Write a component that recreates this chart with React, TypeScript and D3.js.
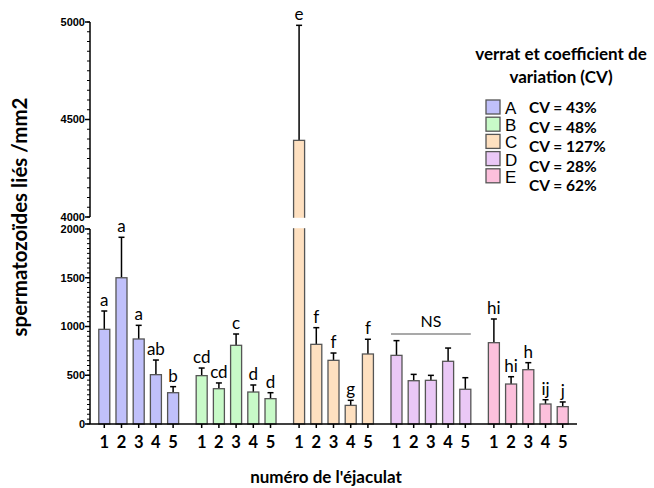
import React from "react";
import * as d3 from "d3";

const boars = ["A", "B", "C", "D", "E"];
const ejaculates = ["1", "2", "3", "4", "5"];
const meanA = [971, 1500, 872, 506, 321];
const semA = [188, 415, 140, 150, 62];
const meanB = [496, 362, 807, 328, 260];
const semB = [78, 59, 116, 72, 61];
const meanC = [4393, 817, 653, 191, 718];
const semC = [590, 171, 75, 52, 151];
const meanD = [704, 444, 448, 643, 356];
const semD = [151, 65, 51, 136, 119];
const meanE = [834, 410, 557, 205, 178];
const semE = [243, 75, 72, 44, 48];
const lettersA = ["a", "a", "a", "ab", "b"];
const lettersB = ["cd", "cd", "c", "d", "d"];
const lettersC = ["e", "f", "f", "g", "f"];
const lettersD = ["", "", "", "", ""];
const lettersE = ["hi", "hi", "h", "ij", "j"];
const cvLabels = ["CV = 43%", "CV = 48%", "CV = 127%", "CV = 28%", "CV = 62%"];
const colors = ["#c0c0fa", "#c8fac8", "#fee0c0", "#eac8f6", "#fcc0dc"];
const lowerTicks = [0, 500, 1000, 1500, 2000];
const upperTicks = [4000, 4500, 5000];

const means = [meanA, meanB, meanC, meanD, meanE];
const sems = [semA, semB, semC, semD, semE];
const letters = [lettersA, lettersB, lettersC, lettersD, lettersE];

const CAL = "Lato, 'Open Sans', sans-serif";
const ARIAL = "'Liberation Sans', Arial, sans-serif";

export default function App() {
  const axisX = 90;
  const xRight = 577;
  const yLower = d3.scaleLinear().domain([0, 2000]).range([424, 229]);
  const yUpper = d3.scaleLinear().domain([4000, 5000]).range([217, 22]);
  const y = (v: number) => (v >= 4000 ? yUpper(v) : yLower(v));
  const xg = d3.scaleBand<string>().domain(boars).range([axisX, xRight]).padding(0);
  const xi = d3
    .scaleBand<string>()
    .domain(ejaculates)
    .range([0, xg.bandwidth()])
    .paddingInner(0.36)
    .paddingOuter(0.51);
  const bw = xi.bandwidth();

  const minorLower = d3.range(0, 2001, 50);
  const minorUpper = d3.range(4000, 5001, 50);

  const bars: any[] = [];
  boars.forEach((b, gi) => {
    ejaculates.forEach((e, ii) => {
      const m = means[gi][ii];
      const s = sems[gi][ii];
      const x0 = (xg(b) as number) + (xi(e) as number);
      const cx = x0 + bw / 2;
      const top = y(m);
      const errTop = y(m + s);
      bars.push(
        <g key={b + e}>
          <line x1={cx} x2={cx} y1={top} y2={errTop} stroke="#000" strokeWidth={1.5} />
          <line x1={cx - 3} x2={cx + 3} y1={errTop} y2={errTop} stroke="#000" strokeWidth={1.5} />
          <rect x={x0} y={top} width={bw} height={yLower(0) - top} fill={colors[gi]} stroke="#555" strokeWidth={1.3} />
          {m >= 4000 && (
            <rect x={x0 - 2} y={yUpper(4000) + 0.8} width={bw + 4} height={yLower(2000) - yUpper(4000) - 1.6} fill="#fff" />
          )}
          {letters[gi][ii] && (
            <text x={cx} y={errTop - 5} textAnchor="middle" fontFamily={CAL} fontSize={17} fill="#000">
              {letters[gi][ii]}
            </text>
          )}
          <line x1={cx} x2={cx} y1={424} y2={428} stroke="#000" strokeWidth={1.5} />
          <text x={cx} y={448} textAnchor="middle" fontFamily={CAL} fontWeight="bold" fontSize={16.5} fill="#000">
            {e}
          </text>
        </g>
      );
    });
  });

  const dX0 = (xg("D") as number) + (xi("1") as number);
  const dX1 = (xg("D") as number) + (xi("5") as number) + bw;

  return (
    <svg width={654} height={488} style={{ position: "absolute", left: 0, top: 0, background: "#fff" }}>
      <line x1={axisX} x2={axisX} y1={yLower(0)} y2={yLower(2000)} stroke="#000" strokeWidth={1.5} />
      <line x1={axisX} x2={axisX} y1={yUpper(4000)} y2={yUpper(5000)} stroke="#000" strokeWidth={1.5} />
      {minorLower.map((v) => (
        <line key={"ml" + v} x1={axisX - 3} x2={axisX} y1={yLower(v)} y2={yLower(v)} stroke="#000" strokeWidth={1} />
      ))}
      {minorUpper.map((v) => (
        <line key={"mu" + v} x1={axisX - 3} x2={axisX} y1={yUpper(v)} y2={yUpper(v)} stroke="#000" strokeWidth={1} />
      ))}
      {lowerTicks.map((v) => (
        <g key={"lt" + v}>
          <line x1={axisX - 5} x2={axisX} y1={yLower(v)} y2={yLower(v)} stroke="#000" strokeWidth={1.5} />
          <text x={axisX - 5} y={yLower(v)} dy="0.36em" textAnchor="end" fontFamily={ARIAL} fontWeight="bold" fontSize={11}>
            {v}
          </text>
        </g>
      ))}
      {upperTicks.map((v) => (
        <g key={"ut" + v}>
          <line x1={axisX - 5} x2={axisX} y1={yUpper(v)} y2={yUpper(v)} stroke="#000" strokeWidth={1.5} />
          <text x={axisX - 5} y={yUpper(v)} dy="0.36em" textAnchor="end" fontFamily={ARIAL} fontWeight="bold" fontSize={11}>
            {v}
          </text>
        </g>
      ))}
      {bars}
      <line x1={axisX} x2={xRight} y1={424} y2={424} stroke="#000" strokeWidth={1.5} />
      <line x1={dX0} x2={dX1} y1={334} y2={334} stroke="#555" strokeWidth={1.2} />
      <text x={(dX0 + dX1) / 2} y={327} textAnchor="middle" fontFamily={CAL} fontSize={16}>
        NS
      </text>
      <text transform="translate(27,217) rotate(-90)" textAnchor="middle" fontFamily={CAL} fontWeight="bold" fontSize={20.5}>
        spermatozoïdes liés /mm2
      </text>
      <text x={326} y={483} textAnchor="middle" fontFamily={CAL} fontWeight="bold" fontSize={17}>
        numéro de l'éjaculat
      </text>
      <text x={561} y={60} textAnchor="middle" fontFamily={CAL} fontWeight="bold" fontSize={17}>
        verrat et coefficient de
      </text>
      <text x={561} y={83} textAnchor="middle" fontFamily={CAL} fontWeight="bold" fontSize={17}>
        variation (CV)
      </text>
      {boars.map((b, i) => (
        <g key={"lg" + b}>
          <rect x={486} y={100 + i * 17.2} width={14} height={14} fill={colors[i]} stroke="#555" strokeWidth={1.3} />
          <text x={505} y={114 + i * 17.2} fontFamily={ARIAL} fontSize={17}>
            {b}
          </text>
          <text x={529} y={113 + i * 19.5} fontFamily={CAL} fontWeight="bold" fontSize={15.5}>
            {cvLabels[i]}
          </text>
        </g>
      ))}
    </svg>
  );
}
